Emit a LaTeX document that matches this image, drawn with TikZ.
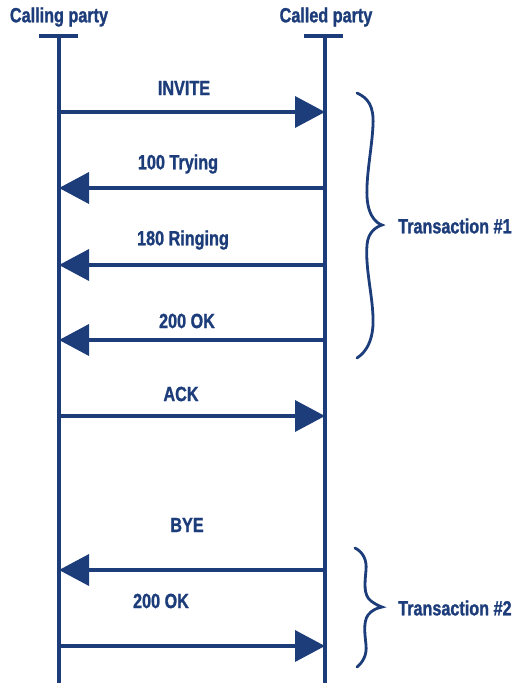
\documentclass[tikz,border=0pt]{standalone}
\usepackage{fontspec}
\setmainfont{Liberation Sans}
\newfontfamily\lblfont{Liberation Sans Bold}[FakeStretch=0.79,FakeBold=1.2]
\usetikzlibrary{arrows.meta}
\definecolor{sipblue}{RGB}{28,60,122}
\begin{document}
\begin{tikzpicture}[x=1pt,y=-1pt,
  lbl/.style={text=sipblue,font=\lblfont\fontsize{20.5}{24}\selectfont,inner sep=0pt},
  life/.style={draw=sipblue,line width=3.6pt},
  msg/.style={draw=sipblue,line width=3.6pt,-{Triangle[length=30pt,width=31pt,fill=sipblue]}},
  brc/.style={draw=sipblue,line width=2.8pt,line cap=round}]
\useasboundingbox (0,0) rectangle (518,683);
% lifeline heads
\node[lbl] (calling) at (59,17) {Calling party};
\node[lbl] (called) at (326,17) {Called party};
\coordinate (Ltop) at (59,35); \coordinate (Lbot) at (59,683);
\coordinate (Rtop) at (325,35); \coordinate (Rbot) at (325,683);
\draw[life] (39,36) -- (78,36);
\draw[life] (304,36) -- (343,36);
\draw[life] (Ltop) -- (Lbot);
\draw[life] (Rtop) -- (Rbot);
% message endpoints
\foreach \n/\y in {1/112,2/188,3/265,4/340,5/416,6/570,7/646}{
  \coordinate (L\n) at (59,\y);
  \coordinate (R\n) at (325,\y);
}
\draw[msg] (L1) -- (R1);
\draw[msg] (R2) -- (L2);
\draw[msg] (R3) -- (L3);
\draw[msg] (R4) -- (L4);
\draw[msg] (L5) -- (R5);
\draw[msg] (R6) -- (L6);
\draw[msg] (L7) -- (R7);
% labels
\node[lbl] (invite) at (184,88) {INVITE};
\node[lbl] (trying) at (178,164) {100 Trying};
\node[lbl] (ringing) at (183,240) {180 Ringing};
\node[lbl] (ok1) at (187,321) {200 OK};
\node[lbl] (ack) at (181,394) {ACK};
\node[lbl] (bye) at (187,525) {BYE};
\node[lbl] (ok2) at (161,601) {200 OK};
% braces
\draw[brc] (357,93) .. controls (368,98) and (374,106) .. (373,125)
  .. controls (372,150) and (364,185) .. (368,205)
  .. controls (370,216) and (376,223) .. (382,225)
  .. controls (376,227) and (368,232) .. (367,245)
  .. controls (365,270) and (374,300) .. (373,325)
  .. controls (372,342) and (366,352) .. (357,358);
\draw[brc] (355,548) .. controls (363,552) and (367,560) .. (366,570)
  .. controls (365,582) and (363,595) .. (371,601)
  .. controls (375,604) and (379,606) .. (382,607)
  .. controls (377,608) and (372,610) .. (368,615)
  .. controls (363,622) and (365,635) .. (366,645)
  .. controls (367,655) and (363,662) .. (357,667);
\node[lbl,anchor=west] (t1) at (398,226) {Transaction \#1};
\node[lbl,anchor=west] (t2) at (398,608) {Transaction \#2};
\end{tikzpicture}
\end{document}
